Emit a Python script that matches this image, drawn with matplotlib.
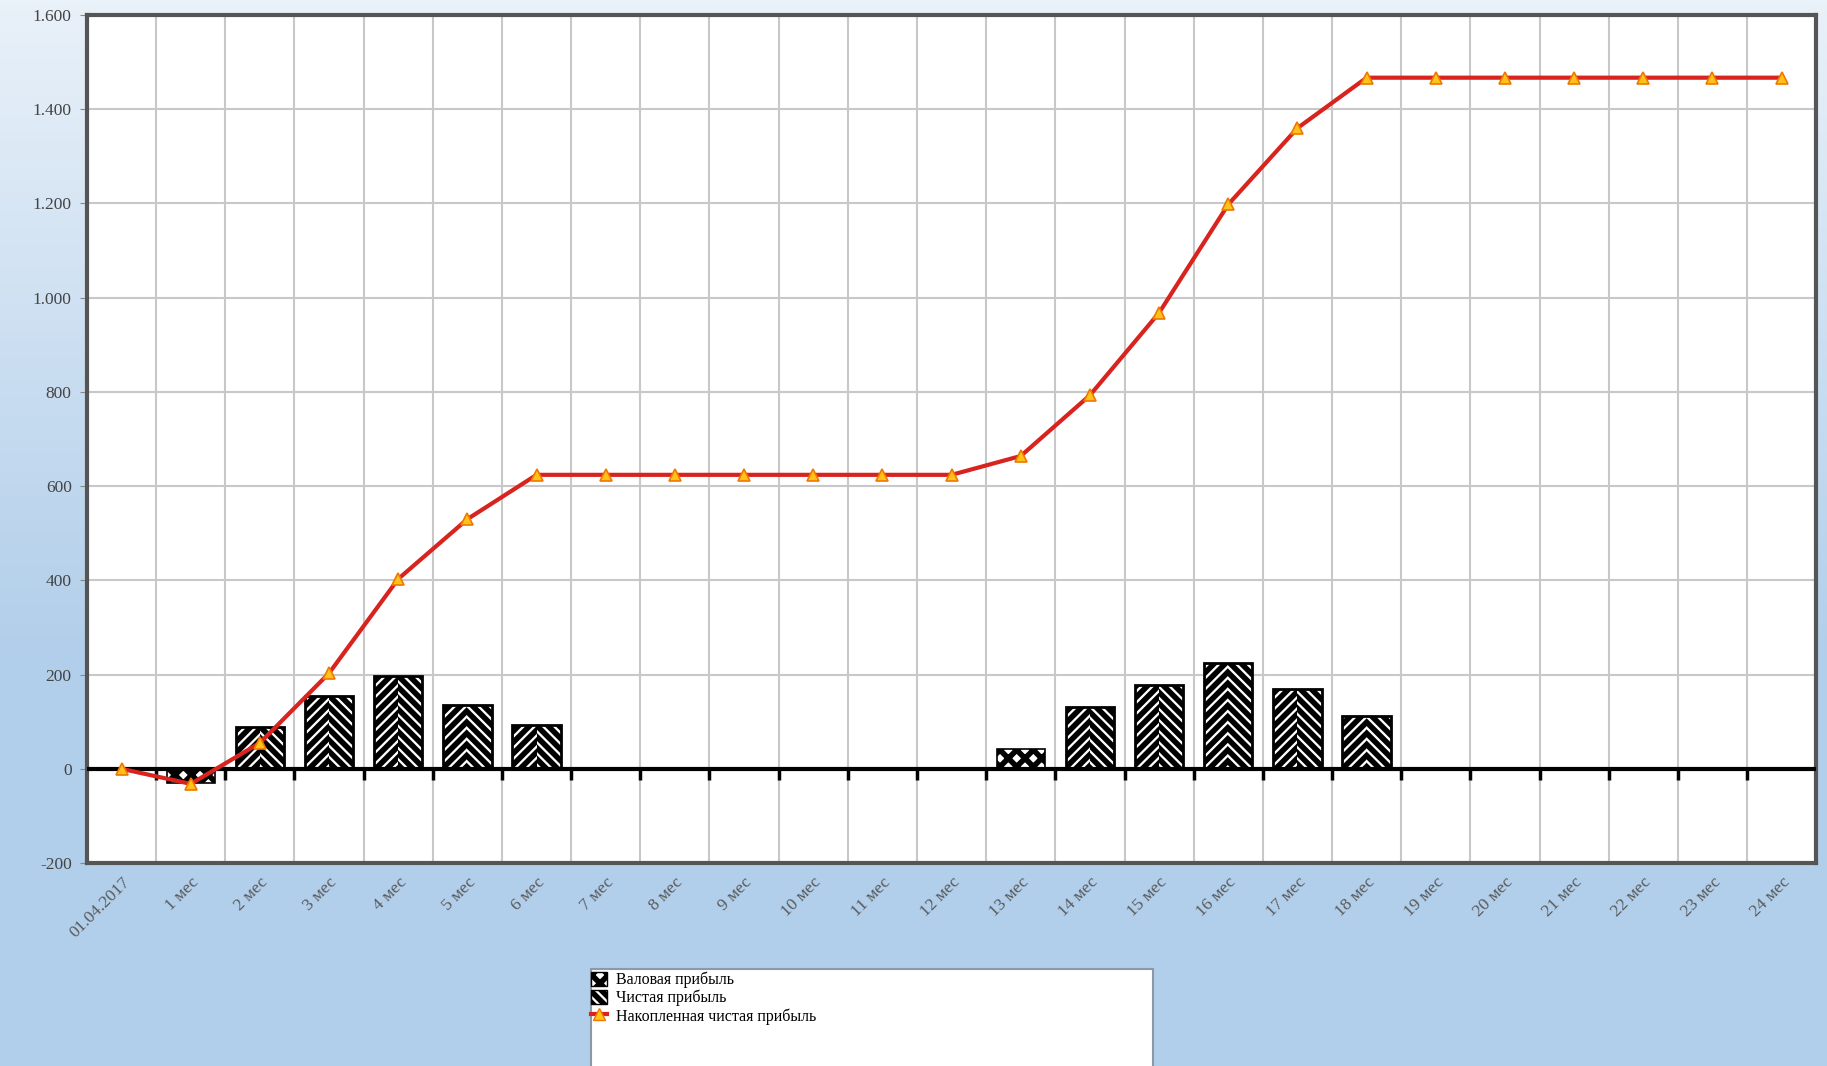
import numpy as np
import matplotlib
matplotlib.use('Agg')
import matplotlib.pyplot as plt
from matplotlib.patches import Rectangle, Patch
from matplotlib.lines import Line2D
from matplotlib import markers

# categories and values
categories = ['01.04.2017'] + ['%d мес' % i for i in range(1, 25)]
gross_profit = [0, -30, 0, 0, 0, 0, 0, 0, 0, 0, 0, 0, 0, 42, 0, 0, 0, 0, 0, 0, 0, 0, 0, 0, 0]
net_profit = [0, 0, 88, 154, 197, 136, 94, 0, 0, 0, 0, 0, 0, 0, 131, 178, 225, 169, 113, 0, 0, 0, 0, 0, 0]
cumulative = [0, -32, 55, 203, 403, 530, 624, 624, 624, 624, 624, 624, 624, 664, 793, 968, 1198, 1360, 1467,
              1467, 1467, 1467, 1467, 1467, 1467]
yticks = [-200, 0, 200, 400, 600, 800, 1000, 1200, 1400, 1600]
ytick_labels = ['-200', '0', '200', '400', '600', '800', '1.000', '1.200', '1.400', '1.600']
legend_labels = ['Валовая прибыль', 'Чистая прибыль', 'Накопленная чистая прибыль']

plt.rcParams['hatch.linewidth'] = 4.0
plt.rcParams['hatch.color'] = 'black'

fig = plt.figure(figsize=(18.27, 10.66), dpi=100)

# background gradient
bg = fig.add_axes([0, 0, 1, 1], zorder=-5)
t = np.clip(np.linspace(0, 1, 256) / 0.62, 0, 1)
top = np.array([233, 241, 249]) / 255
bot = np.array([177, 206, 234]) / 255
grad = (top[None, :] * (1 - t[:, None]) + bot[None, :] * t[:, None])[:, None, :]
bg.imshow(grad, aspect='auto', extent=[0, 1, 0, 1])
bg.set_axis_off()

ax = fig.add_axes([0.0476, 0.1904, 0.9465, 0.7955])
ax.set_facecolor('white')
x = np.arange(len(categories))
w = 0.7

# gross profit bars
ax.bar(x, gross_profit, width=w, color='white', edgecolor='black', hatch='xx', linewidth=1.2, zorder=3)
# net profit bars: two halves so the stripes form chevrons
ax.bar(x - w / 2, net_profit, width=w / 2, align='edge', color='white', edgecolor='black',
       hatch='///', linewidth=0, zorder=3)
ax.bar(x, net_profit, width=w / 2, align='edge', color='white', edgecolor='black',
       hatch='\\\\\\', linewidth=0, zorder=3)
ax.bar(x, net_profit, width=w, fill=False, edgecolor='black', linewidth=2, zorder=4)

ax.plot(x, cumulative, color='#d8231e', linewidth=3, zorder=5)
ax.plot(x, cumulative, linestyle='none', marker='^', markersize=9, markerfacecolor='#ffc21a',
        markeredgecolor='#f07800', markeredgewidth=1.2, zorder=6)

# zero line with small ticks at category boundaries
ax.axhline(0, color='black', linewidth=3, zorder=4)
bounds = np.arange(len(categories) + 1) - 0.5
ax.plot(bounds[1:-1], np.zeros(len(bounds) - 2), linestyle='none', marker=markers.TICKDOWN,
        markersize=8, markeredgewidth=2.5, color='black', zorder=4)

ax.set_xlim(-0.5, len(categories) - 0.5)
ax.set_ylim(-200, 1600)
ax.set_yticks(yticks)
ax.set_yticklabels(ytick_labels)
ax.set_xticks(x)
ax.set_xticklabels(categories, rotation=45, ha='right', rotation_mode='anchor')
ax.set_xticks(bounds, minor=True)
ax.grid(True, which='minor', axis='x', color='#c8c8c8', linewidth=1.5, zorder=0)
ax.grid(True, which='major', axis='y', color='#c8c8c8', linewidth=1.5, zorder=0)
ax.tick_params(axis='x', which='major', length=0, pad=8, labelsize=12.5, labelcolor='#5a5a5a')
ax.tick_params(axis='x', which='minor', length=0)
ax.tick_params(axis='y', length=5, color='#888888', labelsize=12.5, labelcolor='#444444', pad=6)
for lab in ax.get_xticklabels() + ax.get_yticklabels():
    lab.set_family('Liberation Serif')
for s in ax.spines.values():
    s.set_color('#555555')
    s.set_linewidth(3)

# legend box (runs off the bottom of the picture)
fig.patches.append(Rectangle((591 / 1827, -0.02), (1153 - 591) / 1827, (1066 - 969) / 1066 + 0.02,
                             transform=fig.transFigure, facecolor='white', edgecolor='#8a9aaa',
                             linewidth=1.5, zorder=1))
handles = [Patch(facecolor='white', edgecolor='black', hatch='xx'),
           Patch(facecolor='white', edgecolor='black', hatch='\\\\\\'),
           Line2D([], [], color='#d8231e', linewidth=3, marker='^', markersize=9,
                  markerfacecolor='#ffc21a', markeredgecolor='#f07800')]
leg = fig.legend(handles, legend_labels, loc='upper left', bbox_to_anchor=(589 / 1827, 1 - 970 / 1066),
                 frameon=False, handlelength=1.0, handleheight=1.0, handletextpad=0.6,
                 labelspacing=0.1, borderaxespad=0, borderpad=0.1,
                 prop={'family': 'Liberation Serif', 'size': 11.5})
leg.set_zorder(2)

fig.savefig('out.png', dpi=100)
